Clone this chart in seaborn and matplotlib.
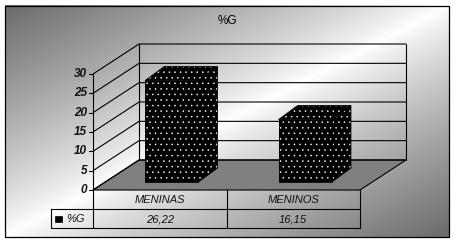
import numpy as np
import pandas as pd
import seaborn as sns
import matplotlib
matplotlib.use("Agg")
import matplotlib.pyplot as plt
from matplotlib.patches import Polygon, Rectangle

# ---- data ----
categories = ["MENINAS", "MENINOS"]
values = [26.22, 16.15]
value_labels = ["26,22", "16,15"]
series_name = "%G"
chart_title = "%G"
y_ticks = [0, 5, 10, 15, 20, 25, 30]

sns.set_theme(style="white")
plt.rcParams['font.family'] = ['Liberation Sans', 'DejaVu Sans']
plt.rcParams['hatch.color'] = 'white'
plt.rcParams['hatch.linewidth'] = 0.35

W, H = 455, 243
fig = plt.figure(figsize=(W / 100, H / 100), dpi=100)
fig.patch.set_facecolor('white')


def frac(x0, y0, x1, y1):
    return [x0 / W, 1 - y1 / H, (x1 - x0) / W, (y1 - y0) / H]


bg = fig.add_axes([0, 0, 1, 1])
bg.axis('off')

# gradient background inside frame
fx0, fy0, fx1, fy1 = 5, 6, 449, 237
ny, nx = fy1 - fy0, fx1 - fx0
yy, xx = np.mgrid[0:ny, 0:nx]
u = xx / (nx - 1) + yy / (ny - 1) - 1
val = 1 - 0.58 * np.abs(u) ** 0.85
bg.imshow(val, cmap='gray', vmin=0, vmax=1, extent=(fx0, fx1, fy1, fy0),
          aspect='auto', interpolation='bilinear', zorder=0)
bg.add_patch(Rectangle((fx0, fy0), fx1 - fx0, fy1 - fy0, fill=False,
                       ec='black', lw=0.9, zorder=1))
bg.set_xlim(0, W)
bg.set_ylim(H, 0)

# ---- front plane axes (value scale) ----
ax_front = fig.add_axes(frac(93, 74, 360, 190))
ax_front.set_xlim(-0.5, len(categories) - 0.5)
ax_front.set_ylim(0, 30)
ax_front.axis('off')

DX, DY = 46, -30  # depth offset in pixels (y down)


def to_px(ax, x, y):
    d = ax.transData.transform((x, y))
    return d[0], H - d[1]


LW = 0.8
xl, xr = -0.5, len(categories) - 0.5
fl = to_px(ax_front, xl, 0)
fr = to_px(ax_front, xr, 0)
# floor
floor = Polygon([fl, fr, (fr[0] + DX, fr[1] + DY), (fl[0] + DX, fl[1] + DY)],
                closed=True, fc='#808080', ec='black', lw=LW, zorder=2)
bg.add_patch(floor)

# walls gridlines
for v in y_ticks:
    p = to_px(ax_front, xl, v)
    q = to_px(ax_front, xr, v)
    bg.plot([p[0], p[0] + DX, q[0] + DX], [p[1], p[1] + DY, q[1] + DY],
            color='black', lw=LW, zorder=3, solid_capstyle='butt')
# back wall verticals
top_l = to_px(ax_front, xl, 30)
top_r = to_px(ax_front, xr, 30)
bg.plot([fl[0] + DX, top_l[0] + DX], [fl[1] + DY, top_l[1] + DY], color='black', lw=LW, zorder=3)
bg.plot([fr[0] + DX, top_r[0] + DX], [fr[1] + DY, top_r[1] + DY], color='black', lw=LW, zorder=3)
# front value axis
bg.plot([fl[0], top_l[0]], [fl[1], top_l[1]], color='black', lw=LW, zorder=3)
for v in y_ticks:
    p = to_px(ax_front, xl, v)
    bg.plot([p[0] - 4, p[0]], [p[1], p[1]], color='black', lw=LW, zorder=3)
    bg.text(p[0] - 6, p[1], str(v), ha='right', va='center', fontsize=8.5,
            fontweight='bold', fontstyle='italic', color='#111111', zorder=4)

# ---- bars ----
BX, BY = 12, 8
ax_bar = fig.add_axes(frac(93 + BX, 74 - BY, 360 + BX, 190 - BY))
ax_bar.patch.set_alpha(0)
df = pd.DataFrame({"cat": categories, "val": values})
sns.barplot(data=df, x="cat", y="val", ax=ax_bar, color='black', saturation=1,
            width=0.4, hatch='...', edgecolor='white', linewidth=0)
ax_bar.set_xlim(-0.5, len(categories) - 0.5)
ax_bar.set_ylim(0, 30)
ax_bar.axis('off')

SDX, SDY = 19, -14
for patch in ax_bar.patches:
    x0 = patch.get_x()
    x1 = x0 + patch.get_width()
    h = patch.get_height()
    a = to_px(ax_bar, x0, h)
    b = to_px(ax_bar, x1, h)
    c = to_px(ax_bar, x1, 0)
    d = to_px(ax_bar, x0, 0)
    top = [a, b, (b[0] + SDX, b[1] + SDY), (a[0] + SDX, a[1] + SDY)]
    side = [b, (b[0] + SDX, b[1] + SDY), (c[0] + SDX, c[1] + SDY), c]
    for poly in (top, side):
        bg.add_patch(Polygon(poly, closed=True, fc='black', ec='white', lw=0,
                             hatch='...', zorder=5))
        bg.add_patch(Polygon(poly, closed=True, fill=False, ec='black', lw=0.6, zorder=6))
    bg.add_patch(Polygon([a, b, c, d], closed=True, fill=False, ec='black', lw=0.6, zorder=6))
ax_bar.set_zorder(2)

# ---- data table ----
row1, row2, row3 = fl[1], fl[1] + 19, fl[1] + 38
key_x = 51
col_edges = [to_px(ax_front, e, 0)[0] for e in np.arange(-0.5, len(categories), 1.0)]
for yv in (row2, row3):
    bg.plot([key_x, col_edges[-1]], [yv, yv], color='black', lw=LW, zorder=3)
bg.plot([key_x, key_x], [row2, row3], color='black', lw=LW, zorder=3)
for xe in col_edges:
    bg.plot([xe, xe], [row1, row3], color='black', lw=LW, zorder=3)
for i, (cat, lab) in enumerate(zip(categories, value_labels)):
    cx = to_px(ax_front, i, 0)[0]
    bg.text(cx, (row1 + row2) / 2 + 0.5, cat, ha='center', va='center', fontsize=8,
            fontstyle='italic', color='#111111', zorder=4)
    bg.text(cx, (row2 + row3) / 2 + 0.5, lab, ha='center', va='center', fontsize=8,
            fontstyle='italic', color='#111111', zorder=4)
ym = (row2 + row3) / 2
bg.add_patch(Rectangle((55, ym - 3), 7, 6, fc='black', ec='black', lw=0.5, zorder=4))
bg.text(66, ym + 0.5, series_name, ha='left', va='center', fontsize=8,
        fontstyle='italic', color='#111111', zorder=4)

# title
bg.text(W / 2, 21, chart_title, ha='center', va='center', fontsize=8.5, color='black')

fig.savefig("out.png", dpi=100)
